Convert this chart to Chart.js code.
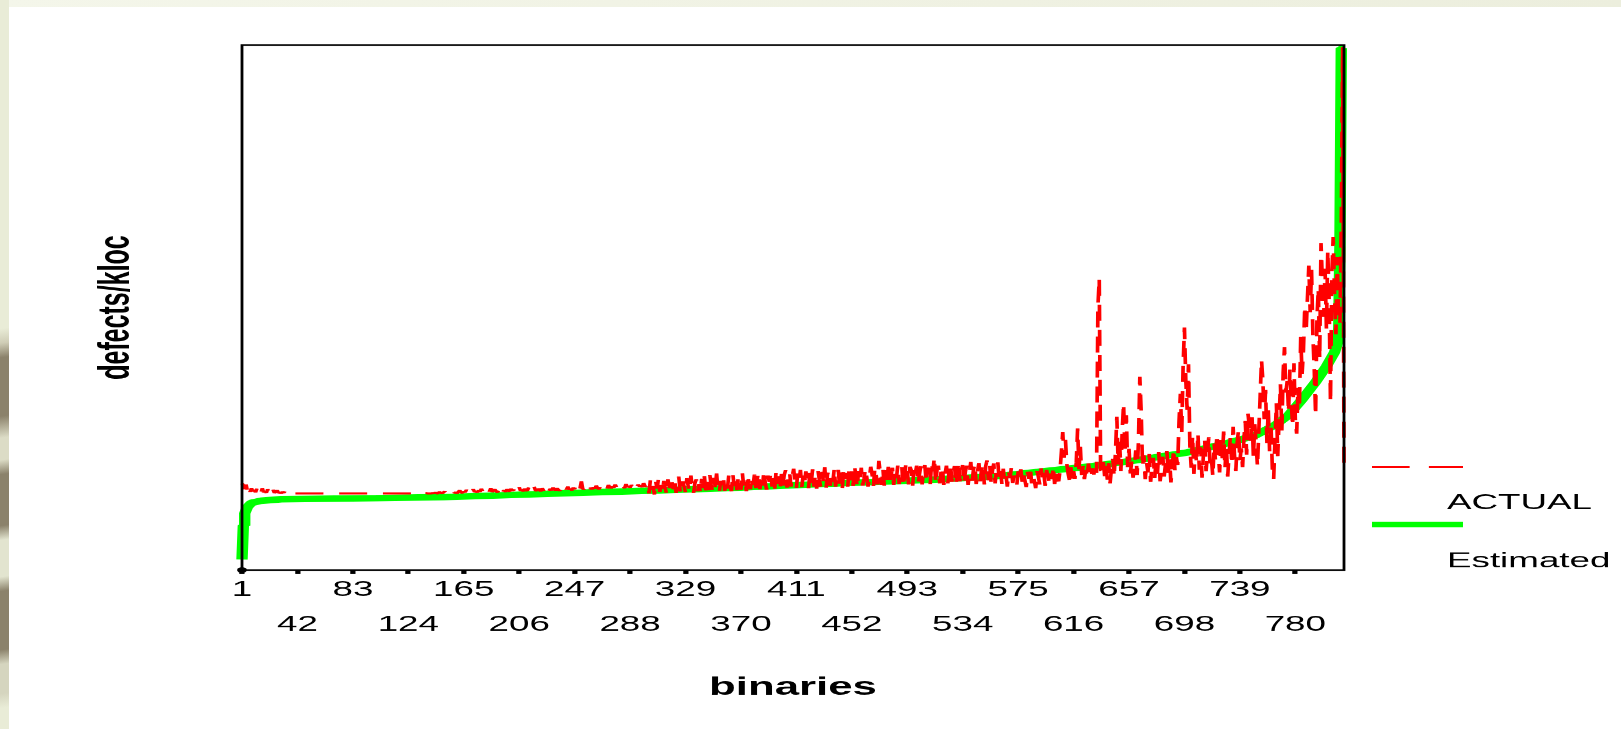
<!DOCTYPE html>
<html>
<head>
<meta charset="utf-8">
<title>defects/kloc by binary</title>
<script src="https://cdn.jsdelivr.net/npm/chart.js@4.4.1/dist/chart.umd.min.js"></script>
<style>
  html, body { margin: 0; padding: 0; }
  body {
    width: 1621px; height: 729px; overflow: hidden; position: relative;
    background: linear-gradient(to right, #f4f6ea, #eceedd);
  }
  #edge {
    position: absolute; left: 0; top: 0; width: 9px; height: 729px;
    background: linear-gradient(172deg, #e9ecd7 0 45%, #cfcdb6 47%, #8b826b 49% 57%, #dcdcc6 60% 63%,
      #8b826b 65% 72%, #e2e4cf 74% 79%, #8b826b 81% 89%, #d5d5bf 91% 95%, #e9ecd7 97%);
  }
  #panel { position: absolute; left: 9px; top: 7px; right: 0; bottom: 0; background: #fff; }
  /* the original picture is a chart stretched sideways, so the chart is drawn narrow and widened */
  #wrap { position: absolute; left: 0; top: 0; width: 926px; height: 729px; transform: scaleX(1.7505); transform-origin: 0 0; }
</style>
</head>
<body>
<div id="edge"></div>
<div id="panel"></div>
<div id="wrap"><canvas id="chart"></canvas></div>
<script>
const STRETCH = 1621 / 926;
const FONT = '"Liberation Sans", Arial, sans-serif';

// tick labels of the binaries axis
const binTicks = [1, 42, 83, 124, 165, 206, 247, 288, 329, 370, 411, 452, 493, 534, 575, 616, 657, 698, 739, 780];

const seriesNames = ['ACTUAL', 'Estimated'];

// estimated curve, read at its bends (binary number / value)
const estIndex = [1, 2, 3, 5, 8, 15, 30, 100, 150, 200, 260, 300, 360, 430, 510, 560, 590, 630, 665, 700,
  730, 750, 765, 775, 785, 795, 803, 809, 812, 813, 814, 816];
const estValue = [2.0, 8.5, 10.8, 12.0, 12.8, 13.2, 13.5, 13.7, 13.9, 14.3, 14.8, 15.1, 15.6, 16.4, 17.2, 17.9, 18.7, 19.8, 21.0, 22.4,
  24.2, 25.6, 27.6, 29.5, 32.5, 35.8, 38.8, 41.5, 44.0, 62.0, 99.4, 99.4];

// actual values, one per binary 1..816
const actual = [
  16.5,16.2,15.4,16.3,15.1,15.8,14.9,15.6,15.0,15.3,14.8,15.5,14.9,15.2,14.7,15.6,14.8,15.0,14.7,15.4,
  14.8,15.1,14.7,15.3,14.7,14.9,15.2,14.7,14.8,14.6,14.9,14.7,15.1,14.6,14.7,14.6,14.6,14.7,14.6,14.6,
  14.6,14.6,14.6,14.6,14.6,14.6,14.6,14.6,14.6,14.6,14.6,14.6,14.6,14.6,14.6,14.6,14.6,14.6,14.6,14.6,
  14.6,14.6,14.6,14.6,14.6,14.6,14.6,14.6,14.6,14.6,14.6,14.6,14.6,14.6,14.6,14.6,14.6,14.6,14.6,14.6,
  14.6,14.6,14.6,14.6,14.6,14.6,14.6,14.6,14.6,14.6,14.6,14.6,14.6,14.6,14.6,14.6,14.6,14.6,14.6,14.6,
  14.6,14.6,14.6,14.6,14.6,14.6,14.6,14.6,14.6,14.6,14.6,14.6,14.6,14.6,14.6,14.6,14.6,14.6,14.6,14.6,
  14.6,14.6,14.6,14.6,14.6,14.6,14.6,14.6,14.6,14.6,14.6,14.6,14.7,14.6,14.6,14.6,14.7,14.6,14.6,14.6,
  14.6,14.7,14.6,14.8,14.6,14.6,14.9,14.7,14.6,14.8,15.0,14.7,14.6,14.9,14.7,14.8,15.1,14.7,14.8,14.6,
  14.9,15.2,14.8,14.7,15.0,14.8,15.3,14.9,14.7,15.1,14.8,15.4,14.9,15.0,14.8,15.2,14.9,15.5,15.0,14.8,
  15.2,14.9,15.3,15.0,15.6,14.9,15.1,15.4,15.0,14.8,15.3,15.1,15.7,15.0,15.2,14.9,15.4,15.1,15.0,15.5,
  15.1,15.3,15.0,15.6,15.2,15.8,15.1,15.3,15.0,15.5,15.2,15.1,15.7,15.3,15.0,15.4,15.9,15.2,15.1,15.5,
  15.3,15.0,15.6,15.2,15.4,16.0,15.3,15.1,15.5,15.2,15.7,15.4,15.2,15.6,15.3,15.1,15.8,15.4,15.2,15.6,
  15.4,15.9,15.3,15.5,15.2,15.7,15.4,16.2,15.5,15.3,15.6,16.9,15.5,15.4,15.7,15.3,15.9,15.5,15.6,15.4,
  15.8,15.5,16.1,15.6,15.4,15.9,15.6,15.5,16.0,15.7,15.5,16.2,15.8,15.6,15.9,15.7,16.3,15.8,15.6,16.0,
  15.7,16.1,15.9,15.6,16.4,15.8,16.0,15.7,16.2,15.9,16.5,16.0,15.8,16.3,15.9,16.1,15.8,16.6,16.0,15.9,
  16.4,14.6,17.1,15.3,16.0,14.4,16.8,15.5,17.4,14.9,16.2,15.0,17.0,15.6,14.5,17.3,15.8,14.8,16.7,15.4,
  17.2,14.7,16.1,17.8,15.2,14.6,16.9,15.9,14.8,17.5,16.0,15.1,18.0,15.7,14.7,16.6,17.3,15.0,16.4,14.9,
  17.4,15.6,17.9,14.9,16.8,15.2,18.1,16.1,15.0,17.6,15.8,18.4,15.3,14.8,17.0,16.2,17.7,15.1,16.9,15.5,
  18.0,15.9,15.0,18.3,16.0,17.4,15.2,17.8,16.4,15.3,18.6,16.1,17.2,15.0,18.1,16.5,15.4,17.6,16.2,18.2,
  15.6,17.3,18.5,15.4,17.7,16.1,18.9,16.6,15.3,18.0,16.8,18.4,15.9,17.5,15.5,18.8,16.4,17.9,15.8,18.3,
  16.0,18.1,19.0,15.7,17.6,18.6,15.9,17.9,19.3,16.5,15.6,18.4,17.0,19.1,15.8,18.0,16.3,18.8,17.4,15.6,
  18.5,16.6,19.2,15.9,18.1,15.5,18.9,17.2,15.8,18.7,16.9,19.6,15.7,18.2,18.9,16.0,18.4,16.8,19.3,15.9,
  18.3,19.1,15.8,18.6,15.6,19.4,17.3,18.5,15.9,19.2,17.1,18.8,16.0,19.8,18.0,15.8,18.9,16.9,19.5,16.1,
  17.4,19.2,17.8,15.9,17.6,19.7,18.2,16.0,19.4,18.1,16.3,20.8,18.6,16.2,19.3,16.1,19.0,17.2,19.7,16.4,
  18.0,19.5,16.2,19.1,17.5,19.9,16.4,18.3,19.6,16.0,17.8,20.3,18.9,16.3,19.7,19.0,16.1,19.4,18.5,19.9,
  16.5,18.2,19.8,16.3,18.6,20.0,16.8,18.9,19.5,16.4,20.4,18.8,21.4,16.6,19.0,19.9,16.5,18.7,19.6,16.2,
  18.4,19.9,16.5,18.9,20.2,16.8,18.7,19.8,16.3,18.5,20.5,16.9,19.1,20.0,16.6,18.8,19.9,16.2,18.6,20.6,
  17.0,19.2,20.1,16.4,18.9,20.4,16.9,19.3,20.2,16.3,19.8,20.9,17.1,20.0,16.7,18.9,20.3,16.5,19.4,20.5,
  17.2,18.9,16.4,19.3,17.0,18.1,15.9,18.6,17.5,19.5,16.6,18.0,17.3,16.1,18.8,17.6,19.2,16.8,18.3,17.1,
  15.8,18.7,17.4,19.6,16.5,18.2,17.0,15.6,18.9,17.7,16.3,19.4,17.2,18.5,16.0,19.1,17.8,16.7,18.4,17.3,
  19.7,16.4,18.6,17.5,16.9,19.0,22.5,26.3,21.4,24.8,20.2,18.3,17.1,19.6,16.8,18.9,17.4,20.5,27.0,19.2,
  23.5,18.1,19.8,17.3,19.1,17.8,20.3,18.5,17.6,19.4,18.2,20.0,18.5,50.2,55.5,19.0,18.8,20.6,17.9,19.8,
  17.2,20.4,16.5,19.3,21.2,17.8,22.6,29.2,20.1,24.5,18.9,26.8,31.7,22.3,29.5,19.6,23.1,18.4,20.7,17.6,
  19.5,22.8,18.1,24.6,36.8,30.2,19.7,21.9,17.3,20.5,18.6,22.1,16.8,19.9,21.4,17.5,20.8,18.3,22.5,16.9,
  19.2,21.6,17.8,20.3,22.7,18.5,21.1,16.7,19.8,23.0,18.9,21.5,20.0,28.4,33.6,26.1,38.7,46.2,36.2,30.5,
  39.2,23.8,19.5,25.6,18.3,22.9,20.4,26.0,19.1,23.4,17.6,21.8,24.7,18.8,22.2,25.3,19.7,21.0,17.9,24.1,
  20.6,25.8,22.4,18.6,24.9,21.3,26.4,19.4,23.7,17.8,22.1,25.5,20.2,27.3,21.9,18.9,24.3,26.7,20.8,23.2,
  19.6,25.1,28.4,22.0,29.8,27.3,24.6,29.1,21.5,27.8,23.9,19.8,26.5,33.2,40.0,36.1,28.7,34.3,24.2,30.6,
  22.5,27.9,19.3,17.4,25.2,31.8,21.7,28.8,35.4,26.3,37.6,42.5,33.8,36.0,30.1,38.2,32.0,27.4,39.4,28.6,
  26.0,34.7,30.9,44.4,37.3,41.8,50.2,45.5,52.0,58.0,49.1,57.2,44.6,38.2,29.5,47.9,53.6,40.3,62.3,55.0,
  48.2,57.4,46.0,60.8,51.5,32.0,56.3,63.4,52.7,44.9,59.6,48.5,47.0,66.0,99.6,20.0
];

// black box round the plot, with the round marker at binary 1
const framePlugin = {
    id: 'frame',
    afterDatasetsDraw(chart) {
        const { ctx, chartArea: a, scales: { x } } = chart;
        ctx.save();
        ctx.strokeStyle = '#000';
        ctx.lineWidth = 1.6;
        ctx.strokeRect(a.left, a.top, a.right - a.left, a.bottom - a.top);
        ctx.beginPath();
        ctx.arc(x.getPixelForValue(1), a.bottom, 2.8, 0, Math.PI * 2);
        ctx.fillStyle = '#000';
        ctx.fill();
        ctx.restore();
    }
};

// legend at the right: line sample above, name below
const sideLegend = {
    id: 'sideLegend',
    afterDraw(chart) {
        const { ctx } = chart;
        const x0 = 1372 / STRETCH, x1 = 1463 / STRETCH, tx = 1447 / STRETCH;
        const sets = chart.data.datasets;
        ctx.save();
        ctx.lineCap = 'butt';

        ctx.strokeStyle = sets[0].borderColor;
        ctx.lineWidth = 1.6;
        ctx.setLineDash([21.5, 11]);
        ctx.beginPath();
        ctx.moveTo(x0, 467);
        ctx.lineTo(x1, 467);
        ctx.stroke();

        ctx.setLineDash([]);
        ctx.strokeStyle = sets[1].borderColor;
        ctx.lineWidth = 5.5;
        ctx.beginPath();
        ctx.moveTo(x0, 524.5);
        ctx.lineTo(x1, 524.5);
        ctx.stroke();

        ctx.fillStyle = '#000';
        ctx.font = '21px ' + FONT;
        ctx.textAlign = 'left';
        ctx.textBaseline = 'alphabetic';
        ctx.fillText(sets[0].label, tx, 509);
        ctx.fillText(sets[1].label, tx, 567);
        ctx.restore();
    }
};

new Chart(document.getElementById('chart'), {
    type: 'line',
    data: {
        datasets: [{
            label: seriesNames[0],
            data: actual.map((v, i) => ({ x: i + 1, y: v })),
            borderColor: '#ff0000',
            borderWidth: 2.1,
            borderDash: [16, 9],
            borderJoinStyle: 'bevel',
            pointRadius: 0,
            clip: false,
            order: 1
        }, {
            label: seriesNames[1],
            data: estIndex.map((x, i) => ({ x: x, y: estValue[i] })),
            borderColor: '#00ff00',
            borderWidth: 6.5,
            borderJoinStyle: 'bevel',
            pointRadius: 0,
            clip: false,
            order: 2
        }]
    },
    options: {
        responsive: true,
        maintainAspectRatio: false,
        animation: false,
        devicePixelRatio: STRETCH,
        events: [],
        layout: {
            padding: { top: 45, right: 926 - 1344 / STRETCH, bottom: 0, left: 0 }
        },
        plugins: {
            legend: { display: false },
            tooltip: { enabled: false }
        },
        scales: {
            x: {
                type: 'linear',
                min: 1,
                max: 816,
                afterBuildTicks: (scale) => { scale.ticks = binTicks.map(v => ({ value: v })); },
                afterFit: (scale) => { scale.height = 159; },
                border: { display: false },
                grid: { drawOnChartArea: false, tickLength: 4, tickWidth: 3, tickColor: '#000' },
                ticks: {
                    autoSkip: false,
                    maxRotation: 0,
                    padding: 7,
                    color: '#000',
                    font: { family: FONT, size: 21, lineHeight: '17.5px' },
                    // alternate labels drop to a second row
                    callback: (value, index) => index % 2 === 0 ? String(value) : ['', '', String(value)]
                },
                title: {
                    display: true,
                    text: 'binaries',
                    color: '#000',
                    font: { family: FONT, size: 25, weight: 'bold', lineHeight: 1.2 },
                    padding: { top: 0, bottom: 26 }
                }
            },
            y: {
                min: 0,
                max: 100,
                afterFit: (scale) => { scale.width = 242 / STRETCH; },
                border: { display: false },
                grid: { display: false },
                ticks: { display: false },
                title: {
                    display: true,
                    text: 'defects/kloc',
                    color: '#000',
                    font: { family: FONT, size: 25, weight: 'bold', lineHeight: 1.2 },
                    padding: { top: 52, bottom: 0 }
                }
            }
        }
    },
    plugins: [framePlugin, sideLegend]
});
</script>
</body>
</html>
